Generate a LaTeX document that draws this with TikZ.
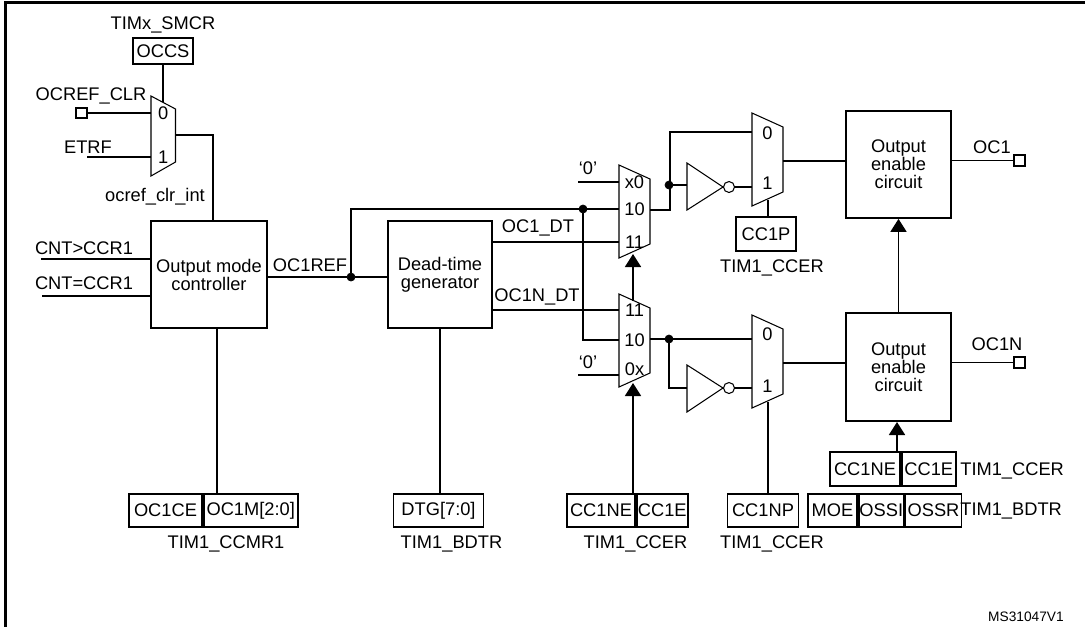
\documentclass[tikz,border=0pt]{standalone}
\usepackage{fontspec}
\setmainfont{Liberation Sans}
\usetikzlibrary{arrows.meta}
\tikzstyle{block} = [draw,rectangle,line width=1pt,inner sep=0pt,align=center]
\tikzstyle{field} = [block,minimum height=0.66cm]
\tikzstyle{tag} = [inner sep=0pt]
\tikzstyle{pin} = [inner sep=0pt,minimum width=0.6cm]
\tikzstyle{pad} = [draw,rectangle,line width=1pt,inner sep=0pt,minimum size=0.21cm]
\tikzstyle{branch} = [circle,inner sep=0pt,minimum size=1.6mm,fill=black,draw=black]
\tikzstyle{bubble} = [draw,circle,inner sep=0pt,minimum size=2.2mm,line width=0.6pt]
\tikzstyle{line} = [line width=1pt]
\tikzstyle{connector} = [line width=1pt,-{Triangle[length=2.6mm,width=3.2mm]}]
\tikzstyle{mux} = [draw,line width=0.6pt,line join=miter]
\tikzstyle{frameline} = [line width=1.5pt]
\newcommand{\muxshape}[2]{\draw[mux] (#1,#2) -- ++(31,14) -- ++(0,65) -- ++(-31,14) -- cycle;}

\begin{document}
\begin{tikzpicture}[x=0.02cm, y=-0.02cm, every node/.style={font=\fontsize{10.4}{10.2}\selectfont}]
    \useasboundingbox (0,0) rectangle (1085,627);
    \draw[frameline] (1085,2.5) -- (5.5,2.5) -- (5.5,627);

    % clear input selector
    \node[tag] (smcr) at (163,25) {TIMx\_SMCR};
    \node[field,minimum width=1.2cm,minimum height=0.52cm] (occs) at (163,51) {OCCS};
    \node[tag] (clrtext) at (91,96) {OCREF\_CLR};
    \node[pad] (clrpad) at (81.5,113) {};
    \node[tag] (etrftext) at (88,147) {ETRF};
    \coordinate (etrf) at (87,157);
    \draw[mux] (151,96) -- (175.5,109) -- (175.5,162) -- (151,176) -- cycle;
    \node[pin,minimum width=0.49cm] (a0) at (163.2,113) {0};
    \node[pin,minimum width=0.49cm] (a1) at (163.2,157) {1};
    \coordinate (asel) at (163,102);
    \coordinate (aout) at (175.5,135);
    \node[tag] (clrint) at (155,197) {ocref\_clr\_int};

    % main blocks
    \node[tag] (cntgt) at (84,248) {CNT>CCR1};
    \node[tag] (cnteq) at (84,283) {CNT=CCR1};
    \coordinate (gt) at (41,259);
    \coordinate (eq) at (42,296);
    \node[block,minimum width=2.32cm,minimum height=2.14cm] (omc) at (209,274.5) {Output mode\\controller};
    \coordinate (omcin) at (213,221);
    \coordinate (omcout) at (217,328);
    \node[tag] (refout) at (310,265) {OC1REF};
    \node[branch] (u1) at (351,277) {};
    \node[block,minimum width=2.08cm,minimum height=2.14cm] (dtg) at (440,274.5) {Dead-time\\generator};
    \node[tag] (oc1dt) at (538,228) {OC1\_DT};
    \node[tag] (oc1ndt) at (537,297) {OC1N\_DT};

    % output selectors
    \node[tag] (zeroa) at (588,168) {‘0’};
    \node[tag] (zerob) at (588,362) {‘0’};
    \coordinate (b0in) at (578,182);
    \coordinate (c0in) at (578,375);
    \muxshape{619}{165}
    \muxshape{619}{294}
    \node[pin] (bx0) at (634.5,182) {x0};
    \node[pin] (b10) at (634.5,209) {10};
    \node[pin] (b11) at (634.5,242) {11};
    \node[pin] (c11) at (634.5,310) {11};
    \node[pin] (c10) at (634.5,340) {10};
    \node[pin] (c0x) at (634.5,369) {0x};
    \node[branch] (u2) at (583,209) {};
    \coordinate (bsel) at (633,254);
    \coordinate (csel) at (633,301);
    \coordinate (cin) at (633,383);
    \coordinate (bout) at (650,210);
    \coordinate (cout) at (650,339);
    \coordinate (dturn) at (670,132);

    % polarity selectors
    \node[branch] (u3) at (669,185) {};
    \node[branch] (u4) at (669,339) {};
    \draw[mux] (687,163) -- (723,187) -- (687,210) -- cycle;
    \draw[mux] (687,365) -- (723,388) -- (687,412) -- cycle;
    \coordinate (inva) at (687,185);
    \coordinate (invb) at (687,388);
    \node[bubble] (nota) at (729,187) {};
    \node[bubble] (notb) at (729,388) {};
    \muxshape{752}{113}
    \muxshape{752}{315}
    \node[pin] (d0) at (767.5,133) {0};
    \node[pin] (d1) at (767.5,183) {1};
    \node[pin] (e0) at (767.5,334) {0};
    \node[pin] (e1) at (767.5,386) {1};
    \coordinate (dbot) at (768,200);
    \coordinate (ebot) at (768,402);
    \coordinate (dout) at (783,161);
    \coordinate (eout) at (783,363);
    \node[field,minimum width=1.2cm,minimum height=0.68cm] (cc1p) at (766,234) {CC1P};
    \node[tag] (ccera) at (772,268) {TIM1\_CCER};

    % output enable
    \node[block,minimum width=2.1cm,minimum height=2.14cm] (enablea) at (898.5,164.5) {Output\\enable\\circuit};
    \node[block,minimum width=2.1cm,minimum height=2.16cm] (enableb) at (898.5,367) {Output\\enable\\circuit};
    \coordinate (enin) at (897,422);
    \node[tag] (oc1text) at (992,147) {OC1};
    \node[tag] (oc1ntext) at (997,344) {OC1N};
    \node[pad] (oc1) at (1019.5,160.5) {};
    \node[pad] (oc1n) at (1019.5,362.5) {};

    % register fields
    \node[field,minimum width=1.46cm] (oc1ce) at (165.5,510.5) {OC1CE};
    \node[field,minimum width=1.88cm,anchor=west] (oc1m) at (oc1ce.east) {OC1M[2:0]};
    \node[tag] (ccmr) at (226,544) {TIM1\_CCMR1};
    \node[field,minimum width=1.8cm] (dtgf) at (438.5,510.5) {DTG[7:0]};
    \node[tag] (bdtra) at (451.5,544) {TIM1\_BDTR};
    \node[field,minimum width=1.36cm] (cc1ne) at (601,510.5) {CC1NE};
    \node[field,minimum width=1.02cm,anchor=west] (cc1e) at (cc1ne.east) {CC1E};
    \node[tag] (ccerb) at (635.5,544) {TIM1\_CCER};
    \node[field,minimum width=1.42cm] (cc1np) at (763,510.5) {CC1NP};
    \node[tag] (ccerc) at (772,544) {TIM1\_CCER};
    \node[field,minimum width=1.4cm,minimum height=0.68cm] (cc1neb) at (865,469) {CC1NE};
    \node[field,minimum width=1.08cm,minimum height=0.68cm,anchor=west] (cc1eb) at (cc1neb.east) {CC1E};
    \node[tag,anchor=west] (ccerd) at (960,471) {TIM1\_CCER};
    \node[field,minimum width=0.98cm] (moe) at (832.5,510.5) {MOE};
    \node[field,minimum width=0.9cm,anchor=west] (ossi) at (moe.east) {OSSI};
    \node[field,minimum width=1.12cm,anchor=west] (ossr) at (ossi.east) {OSSR};
    \node[tag,anchor=west] (bdtrb) at (960,511) {TIM1\_BDTR};
    \node[tag,font=\fontsize{7.8}{9}\selectfont,anchor=east] (code) at (1064,617) {MS31047V1};

    % now the wires
    \draw[line] (occs.south) -- (asel);
    \draw[line] (clrpad) -- (a0.west);
    \draw[line] (etrf) -- (a1.west);
    \draw[line] (aout) -| (omcin);
    \draw[line] (gt) -- (gt -| omc.west);
    \draw[line] (eq) -- (eq -| omc.west);
    \draw[line] (u1 -| omc.east) -- (u1) -- (u1 -| dtg.west);
    \draw[line] (u1) |- (b10.west);
    \draw[line] (u2) |- (c10.west);
    \draw[line] (b11 -| dtg.east) -- (b11.west);
    \draw[line] (c11 -| dtg.east) -- (c11.west);
    \draw[line] (b0in) -- (bx0.west);
    \draw[line] (c0in) -- (c0in -| c0x.west);
    \draw[line] (bout) -| (dturn) -- (dturn -| d0.west);
    \draw[line] (u3) -- (inva);
    \draw[line] (nota) -- (nota -| d1.west);
    \draw[line] (cout) -- (cout -| e0.west);
    \draw[line] (u4) |- (invb);
    \draw[line] (notb) -- (notb -| e1.west);
    \draw[line] (dbot) -- (dbot |- cc1p.north);
    \draw[line] (ebot) -- (ebot |- cc1np.north);
    \draw[line] (dout) -- (dout -| enablea.west);
    \draw[line] (eout) -- (eout -| enableb.west);
    \draw[line] (oc1 -| enablea.east) -- (oc1.west);
    \draw[line] (oc1n -| enableb.east) -- (oc1n.west);
    \draw[line] (omcout) -- (omcout |- oc1m.north);
    \draw[line] (dtg.south) -- (dtgf.north -| dtg.south);
    \draw[connector] (csel) -- (bsel);
    \draw[connector] (cin |- cc1ne.north) -- (cin);
    \draw[connector] (enableb) -- (enablea);
    \draw[connector] (enin |- cc1neb.north) -- (enin);
\end{tikzpicture}
\end{document}
